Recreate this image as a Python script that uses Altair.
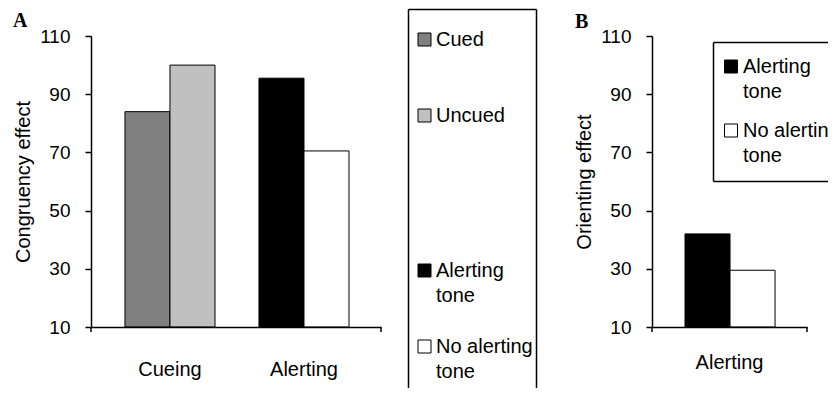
import altair as alt
import pandas as pd

# ---------------- data ----------------
groups_a = ["Cueing", "Cueing", "Alerting", "Alerting"]
series_a = ["Cued", "Uncued", "Alerting tone", "No alerting tone"]
slots_a = ["first", "second", "first", "second"]
values_a = [84, 100, 95.5, 70.5]

groups_b = ["Alerting", "Alerting"]
series_b = ["Alerting tone", "No alerting tone"]
slots_b = ["first", "second"]
values_b = [42, 29.5]

series_names = ["Cued", "Uncued", "Alerting tone", "No alerting tone"]
series_colors = ["#808080", "#c0c0c0", "#000000", "#ffffff"]
legend_a_labels = ["Cued", "Uncued", "Alerting\ntone", "No alerting\ntone"]
legend_b_labels = ["Alerting\ntone", "No alerting\ntone"]
y_ticks = [10, 30, 50, 70, 90, 110]

FONT = "Liberation Sans"
SERIF = "Liberation Serif"
one = pd.DataFrame({"k": [0]})

W_A, W_B, H = 290, 155, 291


def bar_layer(df, order, pin, pout, align, lab_pad, ytitle):
    return alt.Chart(df).mark_bar(stroke="black", strokeWidth=1).encode(
        x=alt.X("group:N", sort=order,
                scale=alt.Scale(paddingInner=pin, paddingOuter=pout, align=align),
                axis=alt.Axis(title=None, labelAngle=0, ticks=False, labelPadding=lab_pad,
                              labelFontSize=20, labelFont=FONT, labelColor="black",
                              domainColor="black", domainWidth=1.5, zindex=1)),
        xOffset=alt.XOffset("slot:N", sort=["first", "second"],
                            scale=alt.Scale(paddingInner=0, paddingOuter=0)),
        y=alt.Y("value:Q", scale=alt.Scale(domain=[10, 110], nice=False, zero=False),
                axis=alt.Axis(values=y_ticks, title=ytitle, grid=False,
                              labelFontSize=19, labelFont=FONT, labelColor="black",
                              labelPadding=15, tickSize=6, tickWidth=1.5, tickColor="black",
                              domainColor="black", domainWidth=1.5,
                              titleFontSize=20, titleFont=FONT, titleFontWeight="normal",
                              titleColor="black", titlePadding=6, zindex=1)),
        y2=alt.datum(10),
        color=alt.Color("series:N", scale=alt.Scale(domain=series_names, range=series_colors),
                        legend=None),
    )


def rule(x1, y1, x2, y2, w=1.5, opacity=1):
    return alt.Chart(one).mark_rule(color="black", strokeWidth=w, opacity=opacity).encode(
        x=alt.value(x1), y=alt.value(y1), x2=alt.value(x2), y2=alt.value(y2))


def swatch(x, y, color):
    return alt.Chart(one).mark_rect(fill=color, stroke="black", strokeWidth=1).encode(
        x=alt.value(x), x2=alt.value(x + 13), y=alt.value(y), y2=alt.value(y + 13))


def label(x, y, text, font=FONT, weight="normal", size=20, limit=0):
    return alt.Chart(one).mark_text(
        text=text, align="left", baseline="alphabetic", font=font, fontWeight=weight,
        fontSize=size, lineBreak="\n", lineHeight=25, color="black",
        limit=limit, ellipsis="\u200b").encode(
        x=alt.value(x), y=alt.value(y))


def color_of(name):
    return series_colors[series_names.index(name)]


df_a = pd.DataFrame({"group": groups_a, "series": series_a, "slot": slots_a, "value": values_a})
df_b = pd.DataFrame({"group": groups_b, "series": series_b, "slot": slots_b, "value": values_b})

# ---------- panel A with side legend ----------
layers_a = [
    rule(-83, -28, -82, -28, opacity=0),  # layout anchor
    bar_layer(df_a, ["Cueing", "Alerting"], 0.328, 0.246, 0.515, 32, "Congruency effect"),
    rule(0, H, 0, H + 5),
    rule(W_A, H, W_A, H + 5),
    label(-78, -9, "A", font=SERIF, weight="bold"),
    # legend box (three sides, continues past the bottom)
    rule(317.5, -26.5, 317.5, 352),
    rule(317.5, -26.5, 445.5, -26.5),
    rule(445.5, -26.5, 445.5, 352),
]
legend_a_y = [10, 86, 241, 317]
for lab, ser, yb in zip(legend_a_labels, series_names, legend_a_y):
    layers_a.append(swatch(327, yb - 13, color_of(ser)))
    layers_a.append(label(345, yb, lab))
panel_a = alt.layer(*layers_a).properties(width=W_A, height=H)

# ---------- panel B with inset legend (cut by the right edge) ----------
layers_b = [
    bar_layer(df_b, ["Alerting"], 0, 0.3708, 0.5, 25, "Orienting effect"),
    rule(W_B, H, W_B, H + 5),
    rule(0, H, 0, H + 5),
    label(-77, -8, "B", font=SERIF, weight="bold"),
    rule(61.5, 6.5, 176, 6.5),
    rule(61.5, 6.5, 61.5, 145.5),
    rule(61.5, 145.5, 176, 145.5),
]
legend_b_y = [37, 101]
for lab, ser, yb in zip(legend_b_labels, series_b, legend_b_y):
    layers_b.append(swatch(72.5, yb - 13, color_of(ser)))
    layers_b.append(label(91, yb, lab, limit=86))
panel_b = alt.layer(*layers_b).properties(width=W_B, height=H)

chart = alt.hconcat(panel_a, panel_b, spacing=271, bounds="flush").properties(
    padding=0, background="white"
).configure_view(stroke=None)

chart.save("out.html", embed_options={"renderer": "svg", "actions": False})
